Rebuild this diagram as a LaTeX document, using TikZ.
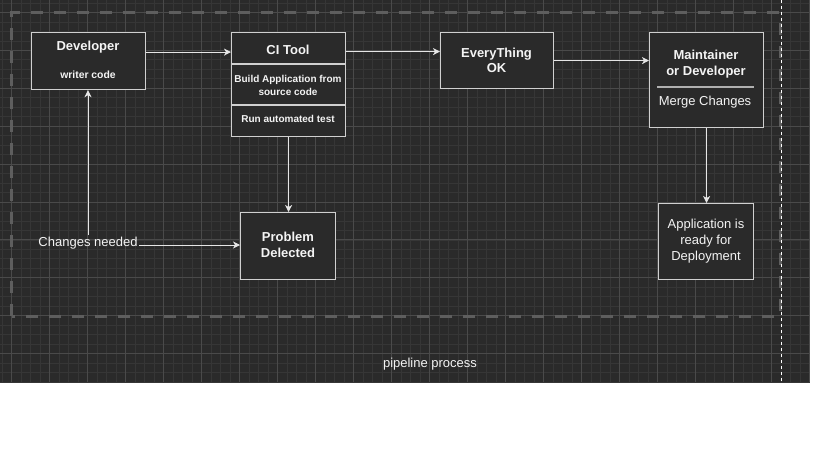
\documentclass[tikz,border=0pt]{standalone}
\usepackage{fontspec}
\setmainfont{Liberation Sans}
\usetikzlibrary{arrows.meta}
\definecolor{bgc}{HTML}{2A2A2A}
\definecolor{minorc}{HTML}{363636}
\definecolor{majorc}{HTML}{4A4A4A}
\definecolor{boxc}{HTML}{D0D0D0}
\definecolor{dashc}{HTML}{5E5E5E}
\definecolor{txtc}{HTML}{F4F4F4}
\definecolor{arrc}{HTML}{E6E6E6}
\definecolor{sepc}{HTML}{B0B0B0}
\tikzset{
  box/.style={draw=boxc, line width=1.2pt, fill=bgc, inner sep=0pt, anchor=north west},
  txt/.style={text=txtc, inner sep=0pt, align=center, font=\fontsize{13}{16}\selectfont},
  btxt/.style={txt, font=\fontsize{13}{16}\selectfont\bfseries},
  stxt/.style={txt, font=\fontsize{10}{13}\selectfont\bfseries},
  arr/.style={draw=arrc, line width=1pt, -{Stealth[length=7pt,width=7pt,inset=2pt]}},
  divline/.style={draw=boxc, line width=1.5pt},
  minorg/.style={draw=minorc, line width=0.8pt},
  majorg/.style={draw=majorc, line width=0.9pt},
}
\begin{document}
\begin{tikzpicture}[x=1pt,y=1pt]
\useasboundingbox (0,0) rectangle (819,-460);
\fill[white] (0,0) rectangle (819,-460);
% background grid
\begin{scope}
  \clip (0,0) rectangle (810,-382);
  \fill[bgc] (0,0) rectangle (810,-382);
  \foreach \i in {-2,...,85} { \draw[minorg] ({11.5+\i*9.5},0) -- ({11.5+\i*9.5},-382); }
  \foreach \i in {-2,...,40} { \draw[minorg] (0,{-12.5-\i*9.475}) -- (810,{-12.5-\i*9.475}); }
  \foreach \i in {-1,...,21} { \draw[majorg] ({11.5+\i*38},0) -- ({11.5+\i*38},-382); }
  \foreach \i in {-1,...,10} { \draw[majorg] (0,{-12.5-\i*37.9}) -- (810,{-12.5-\i*37.9}); }
\end{scope}
% dashed container
\draw[draw=dashc, line width=3pt, dash pattern=on 12pt off 11pt] (11.7,-316) -- (11.7,-13) -- (780,-13) -- (780,-316) -- cycle;
\draw[draw=white, line width=0.9pt, dash pattern=on 3pt off 3pt] (781.7,0) -- (781.7,-382);

% boxes
\node[box, minimum width=114pt, minimum height=57pt] (dev) at (31,-32) {};
\node[box, minimum width=114pt, minimum height=104pt] (ci) at (231,-32) {};
\node[box, minimum width=113pt, minimum height=56pt] (ok) at (440,-32) {};
\node[box, minimum width=114pt, minimum height=95pt] (maint) at (649,-32) {};
\node[box, minimum width=95pt, minimum height=67pt] (prob) at (240,-212) {};
\node[box, minimum width=95pt, minimum height=76pt] (app) at (658,-203) {};

% dividers
\draw[divline] ([yshift=-32pt]ci.north west) -- ([yshift=-32pt]ci.north east);
\draw[divline] ([yshift=-73pt]ci.north west) -- ([yshift=-73pt]ci.north east);
\draw[draw=sepc, line width=2pt] ([xshift=8pt,yshift=-55pt]maint.north west) -- ([xshift=-10pt,yshift=-55pt]maint.north east);

% texts
\node[btxt] (devT) at (88,-47) {Developer};
\node[stxt, font=\fontsize{10.4}{13}\selectfont\bfseries] (devS) at (88,-75) {writer code};
\node[btxt] (ciT) at (288,-50) {CI Tool};
\node[stxt] (ciA) at (288,-85) {Build Application from\\source code};
\node[stxt] (ciB) at (288,-119) {Run automated test};
\node[btxt, font=\fontsize{13}{15}\selectfont\bfseries] (okT) at (496.5,-60.5) {EveryThing\\OK};
\node[btxt] (maT) at (706,-64) {Maintainer\\or Developer};
\node[txt] (maS) at (705,-102) {Merge Changes};
\node[btxt] (prT) at (288,-245) {Problem\\Delected};
\node[txt] (apT) at (706,-241) {Application is\\ready for\\Deployment};
\node[txt, inner sep=1.5pt] (chg) at (88,-243) {Changes needed};
\node[txt] (pipe) at (430,-364) {pipeline process};

% connectors
\draw[arr] ([yshift=9pt]dev.east) -- ([yshift=9pt]dev.east -| ci.west);
\draw[arr] ([yshift=9pt]ok.west -| ci.east) -- ([yshift=9pt]ok.west);
\draw[arr] (ok.east) -- (ok.east -| maint.west);
\draw[arr] (ci.south) -- (ci.south |- prob.north);
\draw[arr] (maint.south) -- (maint.south |- app.north);
\draw[arr] (chg.north) -- (chg.north |- dev.south);
\draw[arr] ([yshift=-2pt]chg.east) -- ([yshift=-2pt]chg.east -| prob.west);
\end{tikzpicture}
\end{document}
